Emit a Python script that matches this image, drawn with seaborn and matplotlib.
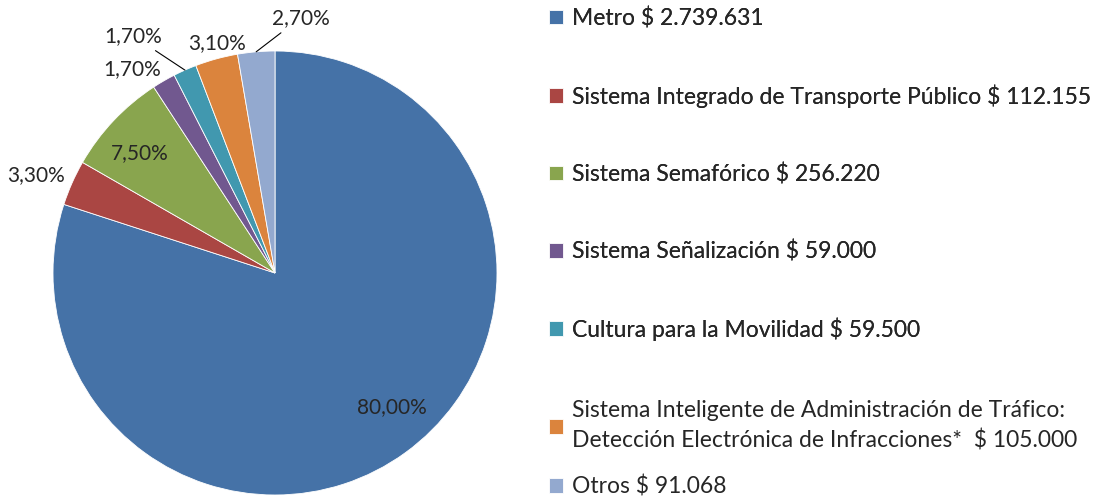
import numpy as np
import seaborn as sns
import matplotlib.pyplot as plt

categorias = ["Metro", "Sistema Integrado de Transporte Público", "Sistema Semafórico",
              "Sistema Señalización", "Cultura para la Movilidad",
              "Sistema Inteligente de Administración de Tráfico:\nDetección Electrónica de Infracciones*",
              "Otros"]
montos = [2739631, 112155, 256220, 59000, 59500, 105000, 91068]
porcentajes = [80.0, 3.3, 7.5, 1.7, 1.7, 3.1, 2.7]

colores = ["#4572A7", "#AA4643", "#89A54E", "#71588F", "#4198AF", "#DB843D", "#93A9CF"]

sns.set_theme(style="white")
plt.rcParams['font.family'] = ['Lato', 'DejaVu Sans']

fig = plt.figure(figsize=(11.05, 4.97), dpi=100)
ax = fig.add_axes([0, 0, 550 / 1105, 1])

wedges, _ = ax.pie(porcentajes, colors=colores, startangle=90, counterclock=False,
                   wedgeprops=dict(edgecolor="white", linewidth=0.6))
ax.set_xlim(-275 / 222, 275 / 222)
ax.set_ylim(-224 / 222, 273 / 222)
ax.set_aspect("equal")
ax.axis("off")

# posicion de cada etiqueta (angulo, radio) y si lleva linea guia
pos_etiquetas = [(-49, 0.80), (157.7, 1.165), (138.3, 0.815), (125, 1.12),
                 (120.9, 1.245), (104.1, 1.07), (84.3, 1.155)]
con_guia = [False, False, False, False, True, False, True]

for w, p, (ang, r), guia in zip(wedges, porcentajes, pos_etiquetas, con_guia):
    txt = f"{p:.2f}".replace(".", ",") + "%"
    tx, ty = r * np.cos(np.radians(ang)), r * np.sin(np.radians(ang))
    if guia:
        mid = np.radians((w.theta1 + w.theta2) / 2)
        ax.annotate(txt, xy=(np.cos(mid), np.sin(mid)), xytext=(tx, ty),
                    ha="center", va="center", fontsize=15,
                    arrowprops=dict(arrowstyle="-", color="black", lw=0.8,
                                    shrinkA=2, shrinkB=0))
    else:
        ax.text(tx, ty, txt, ha="center", va="center", fontsize=15)

etiquetas = [f"{c} $ {m:,}".replace(",", ".") if "\n" not in c
             else f"{c}  $ {m:,}".replace(",", ".") for c, m in zip(categorias, montos)]

leg1 = fig.legend(wedges[:5], etiquetas[:5], loc="center left",
                  bbox_to_anchor=(549 / 1105, 1 - 174 / 497), frameon=False,
                  fontsize=16.5, handlelength=0.62, handleheight=0.62,
                  handletextpad=0.38, labelspacing=2.41, borderpad=0, borderaxespad=0)
leg2 = fig.legend(wedges[5:], etiquetas[5:], loc="center left",
                  bbox_to_anchor=(549 / 1105, 1 - 449 / 497), frameon=False,
                  fontsize=16.5, handlelength=0.62, handleheight=0.62,
                  handletextpad=0.38, labelspacing=1.06, borderpad=0, borderaxespad=0)
for t in leg2.get_texts():
    t.set_linespacing(1.45)
fig.add_artist(leg1)

fig.savefig("out.png", dpi=100)
